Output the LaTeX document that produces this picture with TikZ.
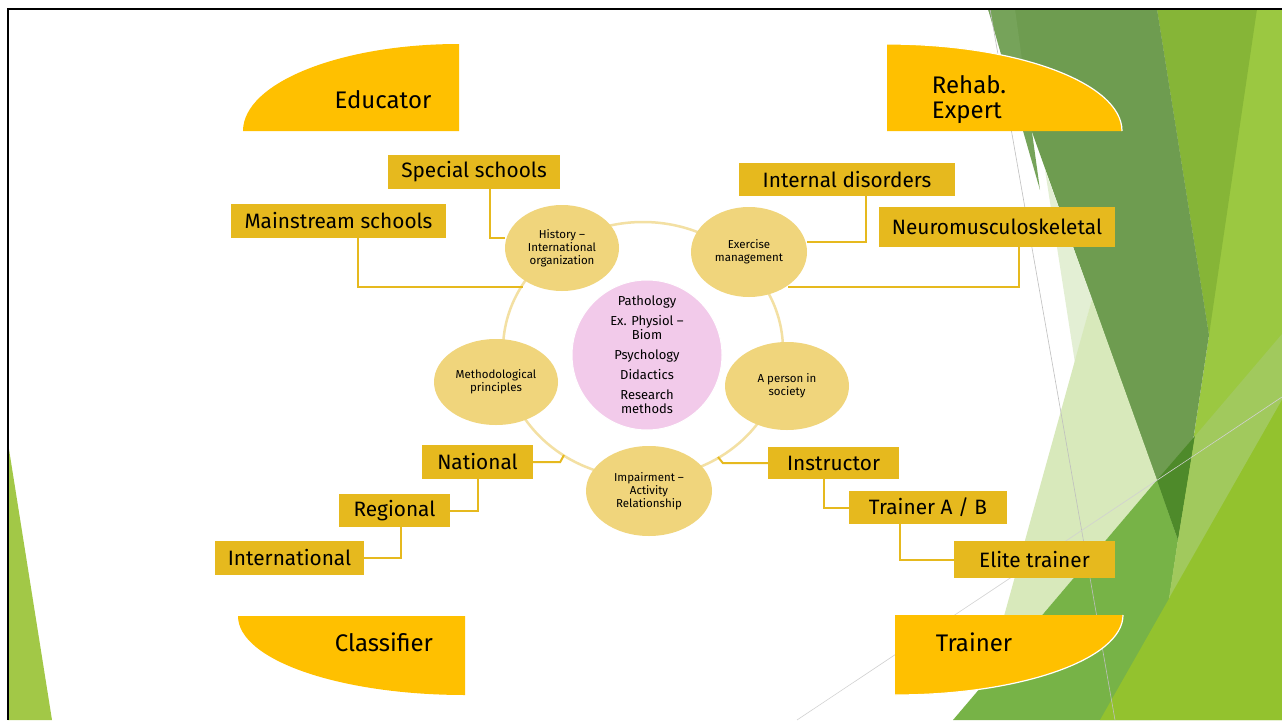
\documentclass[tikz,border=0pt]{standalone}
\usepackage{fontspec}
\setmainfont{Fira Sans}
\usetikzlibrary{shapes.geometric}
\definecolor{tabgold}{HTML}{FFC000}
\definecolor{boxgold}{HTML}{E6B91E}
\definecolor{ellgold}{HTML}{F0D57C}
\definecolor{ringgold}{HTML}{F3E0A3}
\definecolor{pinkc}{HTML}{F2CAEA}
\definecolor{gdark}{HTML}{6E9C50}
\definecolor{gmedtop}{HTML}{76A35A}
\definecolor{golive}{HTML}{86B537}
\definecolor{glight}{HTML}{9BC841}
\definecolor{gpaleA}{HTML}{E3EFD4}
\definecolor{gpaleB}{HTML}{D8E9BB}
\definecolor{gmid}{HTML}{77B347}
\definecolor{gdeep}{HTML}{4E8A2A}
\definecolor{gband}{HTML}{A1C95D}
\definecolor{glime}{HTML}{93C22E}
\definecolor{gleft}{HTML}{A2C847}
\begin{document}
\begin{tikzpicture}[x=1pt,y=-1pt,
  box/.style={fill=boxgold,inner sep=0pt,font=\fontsize{20.8}{22}\selectfont},
  ell/.style={ellipse,fill=ellgold,inner sep=0pt,align=center,font=\fontsize{11.5}{13}\selectfont},
  conn/.style={draw=boxgold,line width=2pt},
  tabtext/.style={font=\fontsize{24}{25}\selectfont,align=left}]
\useasboundingbox (0,0) rectangle (1282,720);
\fill[white] (0,0) rectangle (1282,720);
% green decoration (right)
\fill[glight] (1157,9) -- (1282,9) -- (1282,720) -- (1151,720) -- (1209,335) -- cycle;
\fill[golive] (1157,9) -- (1257,9) -- (1209,335) -- cycle;
\fill[gdark] (988,9) -- (1157,9) -- (1209,335) -- (1178,540) -- cycle;
\fill[gmedtop] (988,9) -- (1015,9) -- (1040,190) -- cycle;
\fill[gpaleA] (1045,170) -- (1092,299) -- (1075,363) -- cycle;
\fill[gpaleB] (1092,299) -- (1157,480) -- (986,681) -- cycle;
\fill[gmid] (953,720) -- (1157,480) -- (1178,540) -- (1151,720) -- cycle;
\fill[gdeep] (1157,480) -- (1195,436) -- (1178,540) -- cycle;
\fill[gband] (1195,436) -- (1282,334) -- (1282,400) -- (1169,598) -- (1178,540) -- cycle;
\fill[glime] (1100,720) -- (1282,400) -- (1282,720) -- cycle;
% green decoration (left)
\fill[gleft] (8,443) -- (52,720) -- (8,720) -- cycle;
\draw[black!25,line width=0.6pt] (990,9) -- (1115,720);
\draw[black!18,line width=0.6pt] (797,720) -- (1282,397);
% border
\draw[black,line width=2.5pt] (8,720) -- (8,9) -- (1282,9);
% tabs
\fill[tabgold] (243,131) .. controls (243,83) and (340,44) .. (459,44) -- (459,131) -- cycle;
\fill[tabgold] (887,44) -- (887,131) -- (1122,131) .. controls (1122,83) and (1017,44) .. (887,44);
\draw[white,line width=1.2pt] (1122,131) .. controls (1122,83) and (1017,44) .. (887,44);
\fill[tabgold] (238,616) -- (465,616) -- (465,695) .. controls (340,695) and (238,660) .. (238,616);
\fill[tabgold] (895,615) -- (1123,615) .. controls (1123,659) and (1021,695) .. (895,695) -- cycle;
\draw[white,line width=1.2pt] (1123,615) .. controls (1123,659) and (1021,695) .. (895,695);
\node[tabtext] (educator) at (383,100) {Educator};
\node[tabtext] (rehab) at (969,100) {Rehab.\\Expert};
\node[tabtext] (classifier) at (384,642) {Classifier};
\node[tabtext] (trainer) at (974,642) {Trainer};
% ring
\draw[ringgold,line width=2.5pt] (643,350) ellipse [x radius=140, y radius=128];
% ellipses
\node[ell,minimum width=114pt,minimum height=86pt] (hist) at (562,248) {History –\\International\\organization};
\node[ell,minimum width=116pt,minimum height=90pt] (exer) at (749,252) {Exercise\\management};
\node[ell,minimum width=124pt,minimum height=88pt] (person) at (787,386) {A person in\\society};
\node[ell,minimum width=126pt,minimum height=90pt] (impair) at (649,491) {Impairment –\\Activity\\Relationship};
\node[ell,minimum width=124pt,minimum height=86pt] (method) at (496,382) {Methodological\\principles};
\node[circle,fill=pinkc,draw=white,line width=1pt,minimum size=150pt,inner sep=0pt,align=center,font=\fontsize{13}{14}\selectfont] (core) at (647,355)
  {Pathology\\[6pt]Ex. Physiol –\\Biom\\[6pt]Psychology\\[6pt]Didactics\\[6pt]Research\\methods};
% boxes
\node[box,minimum width=172pt,minimum height=34pt] (special) at (474,172) {Special schools};
\node[box,minimum width=215pt,minimum height=34pt] (mainstream) at (338.5,221) {Mainstream schools};
\node[box,minimum width=216pt,minimum height=33pt] (internal) at (847,179.5) {Internal disorders};
\node[box,minimum width=236pt,minimum height=40pt] (neuro) at (997,227) {Neuromusculoskeletal};
\node[box,minimum width=111pt,minimum height=34pt] (national) at (477.5,462) {National};
\node[box,minimum width=111pt,minimum height=33pt] (regional) at (394.5,510.5) {Regional};
\node[box,minimum width=149pt,minimum height=34pt] (international) at (289.5,558) {International};
\node[box,minimum width=131pt,minimum height=32pt] (instructor) at (833.5,463) {Instructor};
\node[box,minimum width=158pt,minimum height=33pt] (trainerab) at (928,507.5) {Trainer A / B};
\node[box,minimum width=161pt,minimum height=37pt] (elite) at (1034.5,559.5) {Elite trainer};
% connector ends
\coordinate (mEnd) at (523,287);
\coordinate (nEnd) at (788,287);
\coordinate (natEnd) at (564,455);
\coordinate (insEnd) at (718,457);
% connectors
\draw[conn] ([xshift=16pt]special.south) |- ([yshift=10pt]hist.west);
\draw[conn] ([xshift=19pt]mainstream.south) |- (mEnd);
\draw[conn] ([xshift=19pt]internal.south) |- ([yshift=10pt]exer.east);
\draw[conn] ([xshift=22pt]neuro.south) |- (nEnd);
\draw[conn] (national.east) -- ++(27,0) -- (natEnd);
\draw[conn] (regional.east) -| (national.south);
\draw[conn] (international.east) -| ([xshift=6pt]regional.south);
\draw[conn] (instructor.west) -- ++(-45,0) -- (insEnd);
\draw[conn] (trainerab.west) -| ([xshift=-10pt]instructor.south);
\draw[conn] (elite.west) -| ([xshift=-28pt]trainerab.south);
\end{tikzpicture}
\end{document}
